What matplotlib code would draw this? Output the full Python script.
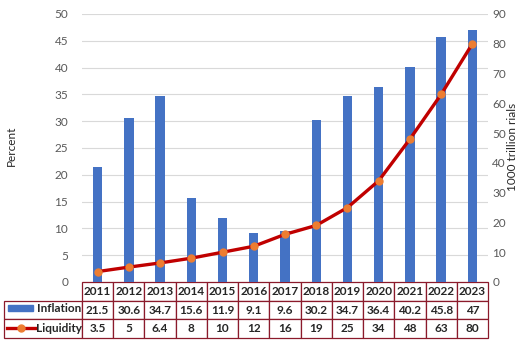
import matplotlib.pyplot as plt
from matplotlib.lines import Line2D
from matplotlib.patches import Rectangle
import numpy as np

years = ['2011', '2012', '2013', '2014', '2015', '2016', '2017', '2018', '2019', '2020', '2021', '2022', '2023']
inflation = [21.5, 30.6, 34.7, 15.6, 11.9, 9.1, 9.6, 30.2, 34.7, 36.4, 40.2, 45.8, 47]
liquidity = [3.5, 5, 6.4, 8, 10, 12, 16, 19, 25, 34, 48, 63, 80]
infl_txt = ['21.5', '30.6', '34.7', '15.6', '11.9', '9.1', '9.6', '30.2', '34.7', '36.4', '40.2', '45.8', '47']
liq_txt = ['3.5', '5', '6.4', '8', '10', '12', '16', '19', '25', '34', '48', '63', '80']

plt.rcParams['font.family'] = ['Lato', 'DejaVu Sans']

blue = '#4472C4'
red = '#C00000'
orange = '#ED7D31'
grey = '#595959'
border = '#8B1A2B'

W, H = 519, 346
fig = plt.figure(figsize=(W / 100, H / 100), dpi=100)
ax = fig.add_axes([82 / W, 1 - 282 / H, 406 / W, 268 / H])
ax2 = ax.twinx()

x = np.arange(len(years))
ax.bar(x, inflation, width=0.3, color=blue, zorder=2)
ax.set_xlim(-0.5, len(years) - 0.5)
ax.set_ylim(0, 50)
ax.set_yticks(np.arange(0, 51, 5))
ax.grid(axis='y', color='#D9D9D9', linewidth=0.8, zorder=0)
ax.set_axisbelow(True)
ax.set_xticks([])
ax.tick_params(axis='y', length=0, labelsize=8.5, labelcolor=grey, pad=10)
for s in ax.spines.values():
    s.set_visible(False)

ax2.plot(x, liquidity, color=red, linewidth=2.4, marker='o', markersize=5,
         markerfacecolor=orange, markeredgecolor=orange, zorder=3,
         solid_joinstyle='round', solid_capstyle='round')
ax2.set_ylim(0, 90)
ax2.set_yticks(np.arange(0, 91, 10))
ax2.tick_params(axis='y', length=0, labelsize=8.5, labelcolor=grey, pad=3)
for s in ax2.spines.values():
    s.set_visible(False)

fig.text(11 / W, 1 - 146 / H, 'Percent', rotation=90, ha='center', va='center',
         fontsize=8.5, color='#262626')
fig.text(512 / W, 1 - 147 / H, '1000 trillion rials', rotation=90, ha='center',
         va='center', fontsize=8.5, color='#262626')

# data table under the plot
cells = [[''] + years, [''] + infl_txt, [''] + liq_txt]
label_w = 78
tbl = ax.table(cellText=cells, colWidths=[label_w / 406] + [1 / 13] * 13,
               bbox=[-label_w / 406, -56 / 268, 1 + label_w / 406, 56 / 268],
               cellLoc='center')
tbl.auto_set_font_size(False)
for (r, c), cell in tbl.get_celld().items():
    cell.set_edgecolor(border)
    cell.set_linewidth(0.9)
    cell.get_text().set_fontsize(8.5)
    cell.get_text().set_fontweight('bold')
    cell.get_text().set_color('#262626')
    if r == 0 and c == 0:
        cell.visible_edges = ''

# row labels with legend keys
fig.text(37 / W, 1 - 309 / H, 'Inflation', ha='left', va='center',
         fontsize=8.5, fontweight='bold', color='#262626')
fig.text(36 / W, 1 - 328 / H, 'Liquidity', ha='left', va='center',
         fontsize=8.5, fontweight='bold', color='#262626')
fig.patches.append(Rectangle((8 / W, 1 - 311 / H), 25 / W, 6 / H,
                             transform=fig.transFigure, color=blue))
fig.lines.append(Line2D([7 / W, 35 / W], [1 - 328 / H, 1 - 328 / H],
                        transform=fig.transFigure, color=red, linewidth=2.4))
fig.lines.append(Line2D([21 / W], [1 - 328 / H], transform=fig.transFigure,
                        marker='o', markersize=5, color=orange))

fig.savefig('out.png', dpi=100)
